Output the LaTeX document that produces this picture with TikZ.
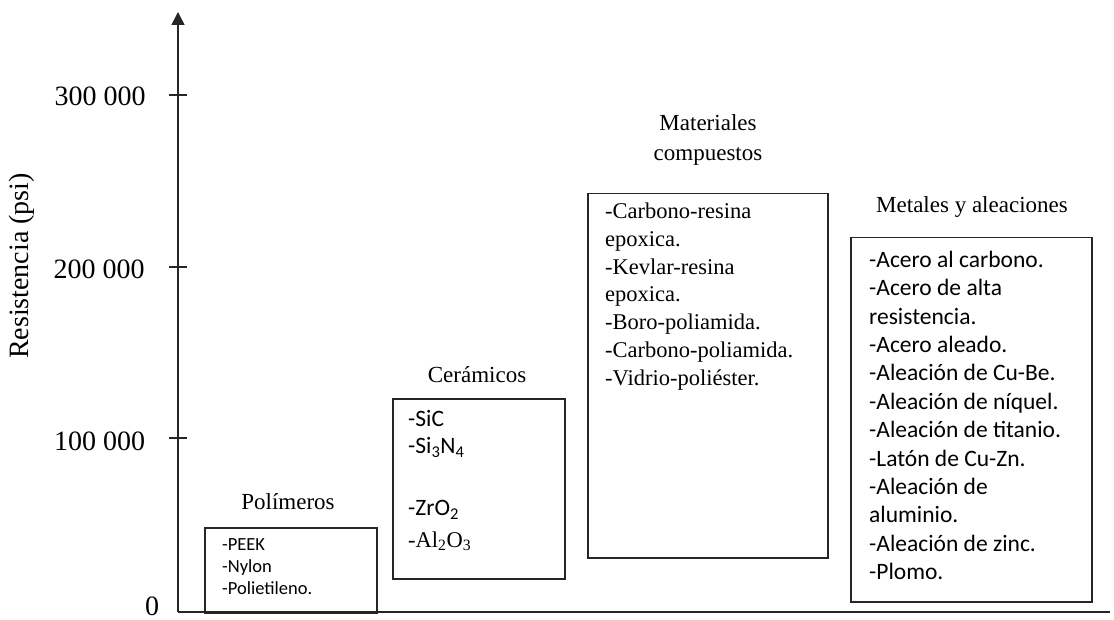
\documentclass[tikz,border=0pt]{standalone}
\usepackage{fontspec}
\setmainfont{Liberation Serif}
\newfontfamily\calibfont{Carlito}
\usetikzlibrary{arrows.meta}

\begin{document}
\begin{tikzpicture}[x=1pt,y=-1pt,
  axisline/.style={line width=1.5pt,draw=black!85},
  tickmark/.style={line width=1.3pt,draw=black!85},
  ticklabel/.style={font=\fontsize{28}{30}\selectfont,inner sep=0pt,anchor=center},
  matbox/.style={draw=black!85,line width=1.5pt,inner sep=0pt,anchor=north west},
  heading/.style={font=\fontsize{23}{30}\selectfont,align=center,inner sep=0pt},
  serifitem/.style={font=\fontsize{22.5}{27}\selectfont,inner sep=0pt,anchor=mid west},
  sansitem/.style={font=\calibfont\fontsize{23.5}{28}\selectfont,inner sep=0pt,anchor=mid west},
  smallitem/.style={font=\calibfont\fontsize{18.5}{22}\selectfont,inner sep=0pt,anchor=mid west}]
\useasboundingbox (0,0) rectangle (1114,620);

% axes
\coordinate (origin) at (178,612);
\coordinate (ytop) at (178,12);
\coordinate (xend) at (1110,612);
\draw[axisline,-{Triangle[length=13pt,width=13pt]}] (origin) -- (ytop);
\draw[axisline] (origin) -- (xend);

% ticks and their labels
\foreach \yy/\nm in {95/t3, 267/t2, 438/t1}{
  \coordinate (\nm a) at (169,\yy);
  \coordinate (\nm b) at (187,\yy);
  \draw[tickmark] (\nm a) -- (\nm b);
}
\node[ticklabel] (l3) at (100,96) {300 000};
\node[ticklabel] (l2) at (99,269) {200 000};
\node[ticklabel] (l1) at (99.5,441) {100 000};
\node[ticklabel] (l0) at (152,606) {0};

% axis title
\node[font=\fontsize{28}{30}\selectfont,rotate=90,inner sep=0pt] (ytitle) at (22,266) {Resistencia (psi)};

% Polimeros
\node[matbox,minimum width=172pt,minimum height=85pt] (polbox) at (204,527) {};
\node[heading] (polhead) at (288,502) {Polímeros};
\node[smallitem] (p1) at (222,548) {-PEEK};
\node[smallitem] (p2) at (222,570) {-Nylon};
\node[smallitem] (p3) at (222,592) {-Polietileno.};

% Ceramicos
\node[matbox,minimum width=172pt,minimum height=180pt] (cerbox) at (392,398) {};
\node[heading] (cerhead) at (477,375) {Cerámicos};
\node[sansitem] (c1) at (408,424) {-SiC};
\node[sansitem] (c2) at (408,451) {-Si\textsubscript{3}N\textsubscript{4}};
\node[sansitem] (c3) at (408,513) {-ZrO\textsubscript{2}};
\node[serifitem] (c4) at (408,545) {-Al\textsubscript{2}O\textsubscript{3}};

% Materiales compuestos
\node[matbox,minimum width=240pt,minimum height=364pt] (combox) at (587,193) {};
\node[heading] (comhead) at (708,140) {Materiales\\compuestos};
\foreach \txt [count=\k from 0] in {-Carbono-resina,epoxica.,-Kevlar-resina,epoxica.,-Boro-poliamida.,-Carbono-poliamida.,-Vidrio-poliéster.}{
  \node[serifitem] (m\k) at (605,{216+27.9*\k}) {\txt};
}

% Metales y aleaciones
\node[matbox,minimum width=241pt,minimum height=364pt] (metbox) at (850,237) {};
\node[heading] (methead) at (972,207) {Metales y aleaciones};
\foreach \txt [count=\k from 0] in {-Acero al carbono.,-Acero de alta,resistencia.,-Acero aleado.,-Aleación de Cu-Be.,-Aleación de níquel.,-Aleación de titanio.,-Latón de Cu-Zn.,-Aleación de,aluminio.,-Aleación de zinc.,-Plomo.}{
  \node[sansitem] (a\k) at (869,{265+28.4*\k}) {\txt};
}
\end{tikzpicture}
\end{document}
